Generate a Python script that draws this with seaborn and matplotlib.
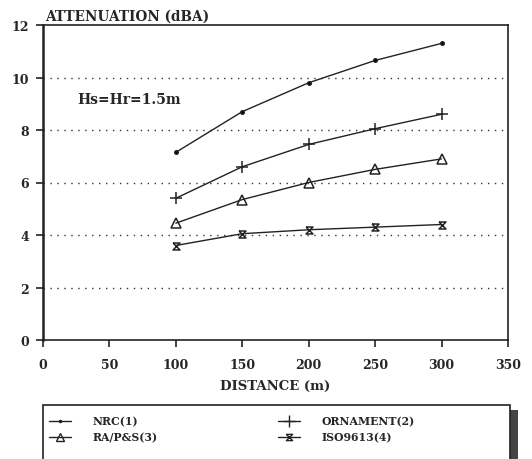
import matplotlib
matplotlib.use("Agg")
import matplotlib.pyplot as plt
import seaborn as sns
import pandas as pd
from matplotlib.lines import Line2D
from matplotlib.patches import Rectangle

distance = [100, 150, 200, 250, 300]
nrc = [7.15, 8.7, 9.8, 10.65, 11.3]
ornament = [5.4, 6.6, 7.45, 8.05, 8.6]
ra_ps = [4.45, 5.35, 6.0, 6.5, 6.9]
iso = [3.6, 4.05, 4.2, 4.3, 4.4]
series_names = ["NRC(1)", "ORNAMENT(2)", "RA/P&S(3)", "ISO9613(4)"]
x_ticks = [0, 50, 100, 150, 200, 250, 300, 350]
y_ticks = [0, 2, 4, 6, 8, 10, 12]

rows = []
for name, vals in zip(series_names, [nrc, ornament, ra_ps, iso]):
    for d, v in zip(distance, vals):
        rows.append({"distance": d, "att": v, "series": name})
df = pd.DataFrame(rows)

sns.set_theme(style="white")
plt.rcParams["font.family"] = ["DejaVu Serif"]
plt.rcParams["font.weight"] = "bold"

hourglass = [(-1, 1), (1, 1), (-1, -1), (1, -1), (-1, 1)]
markers = {"NRC(1)": "o", "ORNAMENT(2)": "+", "RA/P&S(3)": "^", "ISO9613(4)": hourglass}
msize = {"NRC(1)": 2.5, "ORNAMENT(2)": 9, "RA/P&S(3)": 6.5, "ISO9613(4)": 5}

fig = plt.figure(figsize=(5.32, 4.60), dpi=100)
ax = fig.add_axes([43/532, 1-341/460, (508-43)/532, (341-26)/460])

for name in series_names:
    sub = df[df.series == name]
    fill = "black" if name == "NRC(1)" else "none"
    sns.lineplot(data=sub, x="distance", y="att", ax=ax, color="#222222", lw=1.0,
                 marker=markers[name], markersize=msize[name], markerfacecolor=fill,
                 markeredgecolor="#222222", markeredgewidth=1.1, legend=False)

ax.set_xlim(0, 350)
ax.set_ylim(0, 12)
ax.set_xticks(x_ticks)
ax.set_yticks(y_ticks)
ax.set_xticklabels([str(t) for t in x_ticks], fontsize=9, fontweight="bold")
ax.set_yticklabels([str(t) for t in y_ticks], fontsize=9, fontweight="bold")
ax.tick_params(axis="x", direction="out", length=5, width=1.2, color="#222222",
               bottom=True, pad=8)
ax.tick_params(axis="y", direction="out", length=5, width=1.2, color="#222222",
               left=True, pad=5)
ax.set_xlabel("DISTANCE (m)", fontsize=9.5, fontweight="bold", labelpad=6)
ax.set_ylabel("")
for yv in [2, 4, 6, 8, 10]:
    ax.axhline(yv, color="#333333", lw=1.0, ls=(0, (1, 4)), zorder=0)
for s in ax.spines.values():
    s.set_color("#222222")
    s.set_linewidth(1.2)
ax.spines["left"].set_linewidth(1.8)

fig.text(45/532, 1-17/460, "ATTENUATION (dBA)", fontsize=9.8, fontweight="bold",
         va="center", ha="left")
ax.text(26, 9.17, "Hs=Hr=1.5m", fontsize=10, fontweight="bold", va="center", ha="left")

# legend box with shadow
fig.add_artist(Rectangle((510/532, 0), 8/532, (460-411)/460, transform=fig.transFigure,
                         facecolor="#444444", edgecolor="none"))
fig.add_artist(Rectangle((43/532, -0.01), (510-43)/532, (460-406)/460 + 0.01,
                         transform=fig.transFigure, facecolor="white",
                         edgecolor="#222222", lw=1.2))

def handle(name):
    fill = "black" if name == "NRC(1)" else "none"
    ms = msize[name] * (0.6 if name == "NRC(1)" else 0.9)
    return Line2D([], [], color="#222222", lw=1.0, marker=markers[name], markersize=ms,
                  markerfacecolor=fill, markeredgecolor="#222222")

for col, names, x0 in [(0, ["NRC(1)", "RA/P&S(3)"], 45/532),
                       (1, ["ORNAMENT(2)", "ISO9613(4)"], 274/532)]:
    fig.legend([handle(n) for n in names], names, loc="upper left",
               bbox_to_anchor=(x0, 1-412/460), frameon=False,
               prop={"weight": "bold", "size": 7.8}, handlelength=2.0,
               handletextpad=2.0, labelspacing=0.5, borderaxespad=0)

fig.savefig("out.png", dpi=100)
